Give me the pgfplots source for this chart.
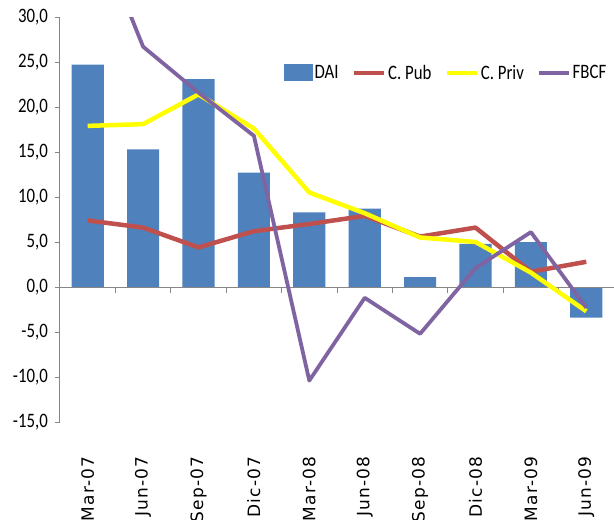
\documentclass[border=0pt]{standalone}
\usepackage{fontspec}
\setmainfont{Carlito}[FakeStretch=0.82]
\newfontfamily\xlabfont{DejaVu Sans}[LetterSpace=7.5]
\usepackage{pgfplots}
\pgfplotsset{compat=1.18}
\definecolor{daiblue}{HTML}{4F81BD}
\definecolor{pubred}{HTML}{C0504D}
\definecolor{privyel}{HTML}{FFFF00}
\definecolor{fbcfpur}{HTML}{8064A2}
\definecolor{axgray}{HTML}{868686}
\pgfplotsset{
  linelegend/.style={legend image code/.code={\draw[##1,line cap=butt] (0pt,0pt) -- (30pt,0pt);}},
  barlegend/.style={legend image code/.code={\fill[daiblue] (0pt,-8.5pt) rectangle (29pt,8.5pt);}},
}
\begin{document}
\begin{tikzpicture}
\path[use as bounding box] (-60pt,-98pt) rectangle (554pt,422pt);
\begin{axis}[
  at={(0,0)}, anchor=south west,
  scale only axis, width=554pt, height=405pt,
  xmin=-0.5, xmax=9.5, ymin=-15, ymax=30,
  axis y line*=left, axis x line*=bottom,
  x axis line style={draw=none},
  y axis line style={draw=axgray, line width=1pt},
  xtick={0,...,9},
  xticklabels={Mar-07,Jun-07,Sep-07,Dic-07,Mar-08,Jun-08,Sep-08,Dic-08,Mar-09,Jun-09},
  xtick style={draw=none},
  xticklabel style={rotate=90, anchor=east, inner sep=0pt, font=\xlabfont\fontsize{17}{20}\selectfont},
  xticklabel shift=29pt,
  ytick={-15,-10,...,30},
  ytick style={draw=axgray, line width=1pt},
  tick align=outside, major tick length=5pt,
  yticklabel style={font=\fontsize{20.5}{24}\selectfont, inner sep=0pt},
  yticklabel shift=7pt,
  /pgf/number format/fixed, /pgf/number format/fixed zerofill,
  /pgf/number format/precision=1, /pgf/number format/use comma,
  /pgf/number format/assume math mode=true,
  legend columns=4,
  legend style={at={(0.404,0.862)}, anchor=west, draw=none, fill=none, inner sep=0pt,
    font=\fontsize{20.5}{24}\selectfont, nodes={inner sep=1.5pt},
    /tikz/every even column/.append style={column sep=12pt}},
]
\addplot[ybar, bar width=0.58, fill=daiblue, draw=none, barlegend] coordinates {
 (0,24.7) (1,15.3) (2,23.1) (3,12.7) (4,8.3) (5,8.7) (6,1.1) (7,4.8) (8,5.0) (9,-3.4)};
\addlegendentry{DAI}
\draw[axgray, line width=1pt] (axis cs:-0.5,0) -- (axis cs:9.5,0);
\pgfplotsinvokeforeach{0.5,1.5,2.5,3.5,4.5,5.5,6.5,7.5,8.5,9.5}{
  \draw[axgray, line width=1pt] (axis cs:#1,0) -- ++(0pt,-6pt);
}
\addplot[pubred, line width=4.5pt, line join=round, mark=none, linelegend] coordinates {
 (0,7.4) (1,6.6) (2,4.4) (3,6.2) (4,7.0) (5,7.9) (6,5.6) (7,6.6) (8,1.7) (9,2.8)};
\addlegendentry{C. Pub}
\addplot[privyel, line width=4.5pt, line join=round, mark=none, linelegend] coordinates {
 (0,17.9) (1,18.1) (2,21.4) (3,17.6) (4,10.5) (5,8.2) (6,5.5) (7,5.0) (8,1.6) (9,-2.7)};
\addlegendentry{C. Priv}
\addplot[fbcfpur, line width=3.8pt, line join=round, mark=none, linelegend] coordinates {
 (0,42.0) (1,26.7) (2,21.6) (3,16.8) (4,-10.4) (5,-1.2) (6,-5.2) (7,2.1) (8,6.1) (9,-2.3)};
\addlegendentry{FBCF}
\end{axis}
\end{tikzpicture}
\end{document}
